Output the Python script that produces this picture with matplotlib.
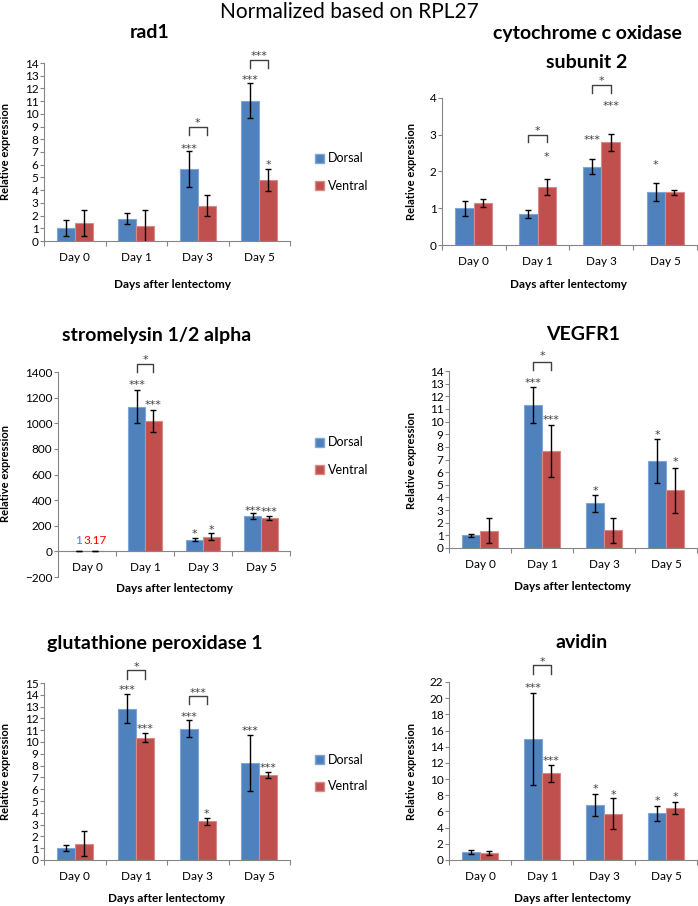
import matplotlib
matplotlib.use('Agg')
import matplotlib.pyplot as plt
from matplotlib.patches import Patch
import numpy as np

plt.rcParams['font.family'] = ['Lato', 'DejaVu Sans']

W, H = 698, 906
days = ['Day 0', 'Day 1', 'Day 3', 'Day 5']
series = ['Dorsal', 'Ventral']
BLUE = '#4F81BD'
RED = '#C0504D'
STAR_C = '#404040'

# ---- data ----
rad1_dorsal = [1.0, 1.76, 5.66, 11.04]
rad1_dorsal_err = [0.63, 0.42, 1.39, 1.38]
rad1_ventral = [1.42, 1.15, 2.78, 4.82]
rad1_ventral_err = [1.03, 1.29, 0.83, 0.88]
rad1_stars = [(2, 0, '***', 7.5), (3, 0, '***', 12.9), (3, 1, '*', 6.2)]
rad1_brackets = [(2, 8.3, 8.95, '*', 9.5), (3, 13.6, 14.26, '***', 14.8)]

cox_dorsal = [1.0, 0.84, 2.13, 1.45]
cox_dorsal_err = [0.21, 0.10, 0.21, 0.24]
cox_ventral = [1.14, 1.57, 2.79, 1.43]
cox_ventral_err = [0.11, 0.22, 0.22, 0.07]
cox_stars = [(1, 1, '*', 2.48), (2, 0, '***', 2.95), (2, 1, '***', 3.85), (3, 0, '*', 2.25)]
cox_brackets = [(1, 2.79, 3.0, '*', 3.18), (2, 4.14, 4.35, '*', 4.53)]

str_dorsal = [1.0, 1130, 91, 274]
str_dorsal_err = [0.5, 128, 10, 22]
str_ventral = [3.17, 1018, 115, 261]
str_ventral_err = [1.0, 87, 28, 15]
str_stars = [(1, 0, '***', 1318), (1, 1, '***', 1162), (2, 0, '*', 157), (2, 1, '*', 188),
             (3, 0, '***', 340), (3, 1, '***', 332)]
str_brackets = [(1, 1397, 1462, '*', 1514)]
str_day0_labels = ['1', '3.17']

veg_dorsal = [1.0, 11.29, 3.53, 6.9]
veg_dorsal_err = [0.12, 1.43, 0.68, 1.72]
veg_ventral = [1.37, 7.68, 1.39, 4.55]
veg_ventral_err = [0.97, 2.05, 0.99, 1.8]
veg_stars = [(1, 0, '***', 13.3), (1, 1, '***', 10.34), (2, 0, '*', 4.74),
             (3, 0, '*', 9.2), (3, 1, '*', 7.0)]
veg_brackets = [(1, 14.08, 14.74, '*', 15.4)]

gpx_dorsal = [0.99, 12.83, 11.14, 8.23]
gpx_dorsal_err = [0.24, 1.25, 0.72, 2.37]
gpx_ventral = [1.38, 10.37, 3.27, 7.22]
gpx_ventral_err = [1.04, 0.41, 0.33, 0.27]
gpx_stars = [(1, 0, '***', 14.7), (1, 1, '***', 11.36), (2, 0, '***', 12.4), (2, 1, '*', 4.17),
             (3, 0, '***', 11.2), (3, 1, '***', 8.03)]
gpx_brackets = [(1, 15.37, 16.1, '*', 16.6), (2, 13.2, 13.9, '***', 14.4)]

avi_dorsal = [0.95, 14.94, 6.81, 5.78]
avi_dorsal_err = [0.27, 5.7, 1.32, 0.93]
avi_ventral = [0.87, 10.73, 5.7, 6.44]
avi_ventral_err = [0.29, 1.05, 1.92, 0.78]
avi_stars = [(1, 0, '***', 21.67), (1, 1, '***', 12.6), (2, 0, '*', 9.1), (2, 1, '*', 8.46),
             (3, 0, '*', 7.72), (3, 1, '*', 8.13)]
avi_brackets = [(1, 23.0, 24.06, '*', 24.85)]

BAR_W = 0.29

fig = plt.figure(figsize=(W / 100, H / 100), dpi=100)


def rect(x0, x1, ytop, ybot):
    return [x0 / W, 1 - ybot / H, (x1 - x0) / W, (ybot - ytop) / H]


def star(ax, x, y, t):
    ax.annotate(t, (x, y), xytext=(0, -4.3), textcoords='offset points', ha='center',
                va='baseline', fontsize=8, color=STAR_C, family='DejaVu Sans',
                annotation_clip=False)


def panel(r, ylim, yticks, d, de, v, ve, stars, brackets, zero_spine=False):
    ax = fig.add_axes(rect(*r))
    x = np.arange(len(days))
    ax.bar(x - BAR_W / 2, d, BAR_W, color=BLUE, edgecolor='#7FA6D6', linewidth=0.8, zorder=2)
    ax.bar(x + BAR_W / 2, v, BAR_W, color=RED, edgecolor='#D98A88', linewidth=0.8, zorder=2)
    ax.errorbar(x - BAR_W / 2, d, yerr=de, fmt='none', ecolor='black', elinewidth=1,
                capsize=2.3, capthick=1, zorder=3)
    ax.errorbar(x + BAR_W / 2, v, yerr=ve, fmt='none', ecolor='black', elinewidth=1,
                capsize=2.3, capthick=1, zorder=3)
    ax.set_xlim(-0.5, len(days) - 0.5)
    ax.set_ylim(*ylim)
    ax.set_yticks(yticks)
    ax.set_xticks(x)
    ax.set_xticklabels(days)
    ax.set_xticks(np.arange(len(days) + 1) - 0.5, minor=True)
    ax.tick_params(axis='x', which='major', length=0, pad=8, labelsize=8.5)
    ax.tick_params(axis='x', which='minor', length=3.5, color='#868686', width=0.8)
    ax.tick_params(axis='y', length=3, pad=1, labelsize=8.5, color='#868686', width=0.8)
    for s in ['top', 'right']:
        ax.spines[s].set_visible(False)
    for s in ['left', 'bottom']:
        ax.spines[s].set_color('#868686')
        ax.spines[s].set_linewidth(0.8)
    if zero_spine:
        ax.spines['bottom'].set_position(('data', 0))
    ax.patch.set_alpha(0)
    for (i, b, t, y) in stars:
        xx = i - BAR_W / 2 if b == 0 else i + BAR_W / 2
        star(ax, xx, y, t)
    for (i, ylo, yhi, t, ty) in brackets:
        x0, x1 = i - BAR_W / 2, i + BAR_W / 2
        ax.plot([x0, x0, x1, x1], [ylo, yhi, yhi, ylo], color=STAR_C, lw=1, clip_on=False)
        star(ax, i, ty, t)
    return ax


panel((44, 290, 63, 241), (0, 14), range(0, 15), rad1_dorsal, rad1_dorsal_err,
      rad1_ventral, rad1_ventral_err, rad1_stars, rad1_brackets)
panel((442, 697, 98, 245), (0, 4), range(0, 5), cox_dorsal, cox_dorsal_err,
      cox_ventral, cox_ventral_err, cox_stars, cox_brackets)
ax3 = panel((58, 290, 372, 577), (-200, 1400), range(-200, 1401, 200), str_dorsal, str_dorsal_err,
            str_ventral, str_ventral_err, str_stars, str_brackets, zero_spine=True)
ax3.text(-BAR_W / 2, 86, str_day0_labels[0], ha='center', va='center', fontsize=8.5, color='#4A7EC8')
ax3.text(BAR_W / 2, 86, str_day0_labels[1], ha='center', va='center', fontsize=8.5, color='#FF0000')
panel((449, 697, 371, 548), (0, 14), range(0, 15), veg_dorsal, veg_dorsal_err,
      veg_ventral, veg_ventral_err, veg_stars, veg_brackets)
panel((44, 290, 683, 860), (0, 15), range(0, 16), gpx_dorsal, gpx_dorsal_err,
      gpx_ventral, gpx_ventral_err, gpx_stars, gpx_brackets)
panel((449, 697, 682, 860), (0, 22), range(0, 23, 2), avi_dorsal, avi_dorsal_err,
      avi_ventral, avi_ventral_err, avi_stars, avi_brackets)


def ftext(x, y, s, **kw):
    fig.text(x / W, 1 - y / H, s, ha='center', va='center', **kw)


ftext(349, 12, 'Normalized based on RPL27', fontsize=15)
titles = [(150, 33, 'rad1'), (587, 33, 'cytochrome c oxidase'), (587, 63, 'subunit 2'),
          (157, 335, 'stromelysin 1/2 alpha'), (583, 335, 'VEGFR1'),
          (155, 643, 'glutathione peroxidase 1'), (582, 643, 'avidin')]
for x, y, s in titles:
    ftext(x, y, s, fontsize=14, fontweight='bold')

ylabs = [(6, 152), (411, 172), (6, 474), (411, 460), (6, 772), (411, 772)]
for x, y in ylabs:
    ftext(x, y, 'Relative expression', fontsize=8, fontweight='bold', rotation=90)
xlabs = [(173, 285), (568, 285), (174, 588), (573, 587), (167, 898), (573, 898)]
for x, y in xlabs:
    ftext(x, y, 'Days after lentectomy', fontsize=8.5, fontweight='bold')

handles = [Patch(facecolor=BLUE, edgecolor='#7FA6D6'), Patch(facecolor=RED, edgecolor='#D98A88')]
for yc in [172, 456, 773]:
    fig.legend(handles, series, loc='center left', bbox_to_anchor=(315 / W, 1 - yc / H),
               frameon=False, fontsize=9, handlelength=0.7, handleheight=0.7,
               handletextpad=0.3, labelspacing=1.2, borderaxespad=0, borderpad=0)

fig.savefig('out.png', dpi=100)
